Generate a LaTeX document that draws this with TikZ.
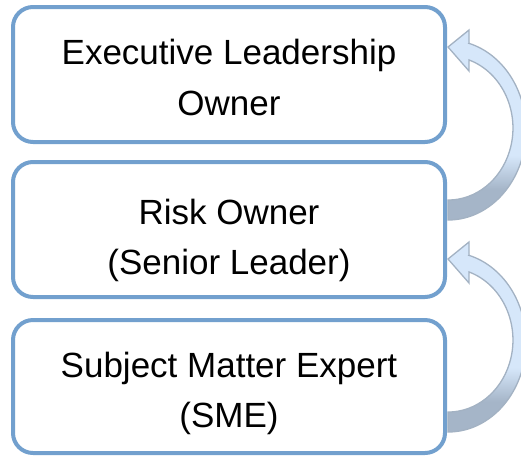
\documentclass[tikz,border=0pt]{standalone}
\usepackage{fontspec}
\setmainfont{Liberation Sans}
\definecolor{boxblue}{HTML}{72A0CE}
\definecolor{arrowtop}{HTML}{D6E7FA}
\definecolor{arrowbot}{HTML}{A5B5C8}
\definecolor{arrowline}{HTML}{A3B2C3}
\pgfdeclareverticalshading{arrsh}{100bp}{color(0bp)=(arrowbot); color(33bp)=(arrowbot); color(42bp)=(arrowtop); color(100bp)=(arrowtop)}
\tikzset{
  box/.style={draw=boxblue, line width=4pt, rounded corners=20pt, fill=white,
    minimum width=432pt, minimum height=135pt, inner sep=0pt},
  txt/.style={anchor=base, inner sep=0pt, font=\fontsize{35}{42}\selectfont},
  curvarrow/.pic={
    \path[draw=arrowline, line width=1.3pt, shading=arrsh, line join=miter]
      (21,-86.7) -- (21,-100) -- (0,-83) -- (21,-59) -- (20.9,-70.1)
      arc[start angle=-71.2, end angle=90, x radius=65, y radius=72]
      -- (0,90)
      arc[start angle=90, end angle=-74.4, x radius=78, y radius=90]
      -- cycle;
  }
}
\begin{document}
\begin{tikzpicture}[x=1pt,y=-1pt]
\useasboundingbox (0,0) rectangle (521,456);
\node[box] (b1) at (229,74.5) {};
\node[box] (b2) at (229,229.5) {};
\node[box, minimum height=133pt] (b3) at (229,386.5) {};
\node[txt] (t1a) at (229,64.5) {Executive Leadership};
\node[txt] (t1b) at (229,115) {Owner};
\node[txt] (t2a) at (229,224.5) {Risk Owner};
\node[txt] (t2b) at (229,274.5) {(Senior Leader)};
\node[txt] (t3a) at (229,377) {Subject Matter Expert};
\node[txt] (t3b) at (229,427) {(SME)};
\coordinate (a1) at (448,130);
\coordinate (a2) at (448,342);
\pic at (a1) {curvarrow};
\pic at (a2) {curvarrow};
\end{tikzpicture}
\end{document}
